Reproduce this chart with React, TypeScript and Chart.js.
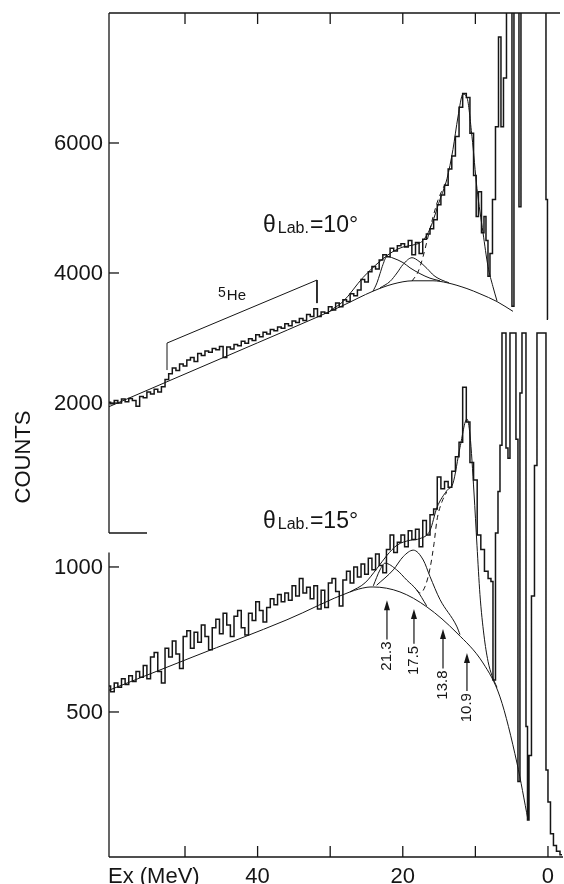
import React, { useEffect, useRef } from 'react';
import { Chart, registerables } from 'chart.js';

Chart.register(...registerables);

// ---------------- axes ----------------
const xMin = -2.07;
const xMax = 60.47;
const bottomTickEx = [0, 10, 20, 30, 40, 50];
const bottomTickLabels = ['0', '', '20', '', '40', ''];
const topFrameTickEx = [10, 20, 30, 40, 50];
const topPanelTicks = [2000, 4000, 6000];
const bottomPanelTicks = [500, 1000];
const topPanelMin = -4985;
const topPanelMax = 8000;
const bottomPanelMin = 0;
const bottomPanelMax = 2910;
const bottomPanelAxisTop = 1050;

// ---------------- theta = 10 deg (upper spectrum) ----------------
const topHistEx = [
  60.5, 60, 59.5, 59, 58.5, 58, 57.5, 57, 56.5, 56,
  55.5, 55, 54.5, 54, 53.5, 53, 52.5, 52, 51.5, 51,
  50.5, 50, 49.5, 49, 48.5, 48, 47.5, 47, 46.5, 46,
  45.5, 45, 44.5, 44, 43.5, 43, 42.5, 42, 41.5, 41,
  40.5, 40, 39.5, 39, 38.5, 38, 37.5, 37, 36.5, 36,
  35.5, 35, 34.5, 34, 33.5, 33, 32.5, 32, 31.5, 31,
  30.5, 30, 29.5, 29, 28.5, 28, 27.5, 27, 26.5, 26,
  25.5, 25, 24.5, 24, 23.5, 23, 22.5, 22, 21.5, 21,
  20.5, 20, 19.5, 19, 18.5, 18, 17.5, 17, 16.5, 16,
  15.5, 15, 14.5, 14, 13.5, 13, 12.5, 12, 11.5, 11,
  10.5, 10,
  9.78, 9.37, 8.95, 8.68, 8.4, 8.13, 7.85, 7.44, 7.02, 6.61,
  6.34, 5.92, 5.51, 5.1, 4.82, 4.55, 4.13, 3.86, 3.58, 0.41,
  0.14, 0.0,
];
const topHistCounts = [
  2010, 1990, 2040, 2000, 2060, 2020, 2070, 2040, 1950, 2100,
  2080, 2170, 2140, 2210, 2170, 2250, 2360, 2450, 2540, 2500,
  2600, 2570, 2660, 2700, 2640, 2760, 2730, 2800, 2780, 2840,
  2820, 2870, 2700, 2860, 2830, 2900, 2880, 2950, 2920, 2990,
  2960, 3050, 3020, 3090, 3060, 3130, 3110, 3170, 3150, 3220,
  3190, 3260, 3240, 3300, 3270, 3360, 3330, 3450, 3330, 3400,
  3380, 3480, 3430, 3540, 3480, 3590, 3560, 3680, 3650, 3740,
  3900, 3860, 4020, 4100, 4060, 4200, 4280, 4250, 4380, 4340,
  4420, 4450, 4400, 4500, 4280, 4470, 4300, 4520, 4600, 4680,
  4820, 5050, 5200, 5350, 5600, 5800, 6100, 6550, 6760, 6700,
  6150, 5500,
  4870, 5250, 4620, 4870, 4500, 3950, 4300, 5130, 6250, 7630,
  6250, 7000, 9000, 9000, 3490, 9000, 9000, 5020, 9000, 9000,
  5130, 3290,
];
const topBaseEx = [60.47, 50, 40, 31.82, 28.24, 24.1, 21.35, 18.6, 15.84, 13.91, 11.16, 9.37, 7.02, 4.82];
const topBaseCounts = [1943, 2446, 2926, 3320, 3500, 3720, 3830, 3880, 3880, 3850, 3760, 3680, 3560, 3410];
const topG1Ex = [24.1, 23.55, 23.14, 22.73, 22.18, 21.35, 19.97, 19.01, 17.63, 16.25, 14.88];
const topG1Counts = [3720, 3850, 3990, 4130, 4255, 4230, 4160, 4080, 3990, 3920, 3880];
const topG2Ex = [23.14, 21.76, 20.8, 19.97, 18.73, 17.77, 16.67, 15.7, 14.6, 13.64];
const topG2Counts = [3770, 3870, 4000, 4130, 4235, 4180, 4070, 3960, 3890, 3850];
const topG3Ex = [18.73, 17.91, 17.22, 16.53, 15.84, 15.15, 13.91];
const topG3Counts = [3876, 4014, 4245, 4553, 4860, 5122, 5430];
const topSumEx = [30.03, 28.24, 25.48, 23.14, 21.35, 19.97, 18.6, 17.22, 16.25, 14.88, 13.91, 13.09, 12.4, 11.71, 11.16, 10.47, 9.78, 8.95, 8.26, 7.58, 7.02];
const topSumCounts = [3420, 3560, 3930, 4180, 4330, 4400, 4430, 4500, 4680, 5130, 5450, 5900, 6400, 6750, 6700, 6100, 5300, 4620, 4100, 3790, 3570];
const heBracketEx = [52.48, 52.48, 31.82, 31.82];
const heBracketCounts = [2507, 2922, 3891, 3537];

// ---------------- theta = 15 deg (lower spectrum) ----------------
const botHistEx = [
  60.5, 60, 59.5, 59, 58.5, 58, 57.5, 57, 56.5, 56,
  55.5, 55, 54.5, 54, 53.5, 53, 52.5, 52, 51.5, 51,
  50.5, 50, 49.5, 49, 48.5, 48, 47.5, 47, 46.5, 46,
  45.5, 45, 44.5, 44, 43.5, 43, 42.5, 42, 41.5, 41,
  40.5, 40, 39.5, 39, 38.5, 38, 37.5, 37, 36.5, 36,
  35.5, 35, 34.5, 34, 33.5, 33, 32.5, 32, 31.5, 31,
  30.5, 30, 29.5, 29, 28.5, 28, 27.5, 27, 26.5, 26,
  25.5, 25, 24.5, 24, 23.5, 23, 22.5, 22, 21.5, 21,
  20.5, 20, 19.5, 19, 18.5, 18, 17.5, 17, 16.5, 16,
  15.5, 15, 14.5, 14, 13.5, 13, 12.5, 12, 11.5, 11,
  10.5, 10, 9.5, 9, 8.5, 8,
  7.71, 7.44, 7.02, 6.75, 6.47, 6.2, 5.92, 5.65, 5.37, 5.1,
  4.82, 4.55, 4.27, 4.0, 3.72, 3.44, 3.17, 2.89, 2.75, 2.48,
  2.07, 1.65, 1.38, 0.83, 0.41, 0.14, -0.14, -0.55, -0.96, -1.38,
  -1.93,
];
const botHistCounts = [
  590, 570, 600, 585, 615, 595, 625, 605, 640, 620,
  660, 615, 690, 705, 640, 600, 720, 690, 745, 700,
  650, 760, 780, 720, 775, 740, 800, 760, 715, 790,
  820, 770, 840, 800, 760, 830, 850, 790, 765, 840,
  815, 880, 850, 810, 860, 890, 870, 905, 880, 910,
  885, 935, 900, 960, 910, 930, 890, 935, 855, 920,
  860, 945, 960, 915, 865, 955, 985, 945, 1000, 965,
  1010, 975, 1030, 990, 1045, 1005, 980, 1060, 1110, 1050,
  1085, 1110, 1070, 1125, 1095, 1130, 1070, 1160, 1110, 1180,
  1200, 1310, 1270, 1295, 1275, 1330, 1380, 1430, 1620, 1500,
  1360, 1300, 1110, 1060, 985, 960,
  950, 610, 1117, 1260, 1420, 1807, 1807, 1410, 1375, 1807,
  1807, 1807, 1440, 260, 1600, 1807, 1807, 450, 128, 350,
  900, 1350, 1807, 1807, 1807, 300, 190, 80, 40, 20,
  8,
];
const botBaseEx = [60.47, 48.9, 35.95, 27.27, 24.93, 24.1, 20.39, 16.67, 12.53, 8.95, 6.61, 4.27, 2.75];
const botBaseCounts = [575, 690, 818, 914, 930, 931, 914, 862, 772, 669, 552, 324, 128];
const botG1Ex = [24.06, 23.14, 22.45, 20.84, 19.46, 18.09, 16.71];
const botG1Counts = [935, 990, 1013, 990, 955, 921, 866];
const botG2Ex = [23.6, 21.31, 19.93, 18.55, 17.18, 16.25, 14.88, 12.58, 12.12];
const botG2Counts = [937, 990, 1036, 1058, 1024, 967, 888, 796, 767];
const botG3Ex = [18.09, 17.63, 16.94, 16.25, 15.7, 15.29, 14.6, 13.95];
const botG3Counts = [921, 910, 932, 995, 1080, 1162, 1225, 1258];
const botSumEx = [27.27, 25.21, 23.55, 22.18, 20.8, 19.01, 17.63, 16.25, 15.29, 13.91, 13.09, 12.12, 11.16, 10.74, 10.19, 9.78, 9.37, 8.82, 8.26, 7.71, 7.02];
const botSumCounts = [914, 945, 995, 1040, 1075, 1092, 1098, 1126, 1205, 1264, 1288, 1412, 1510, 1455, 1255, 1075, 905, 765, 675, 625, 585];

// arrows (lower spectrum)
const arrowEx = [22.18, 18.46, 14.46, 11.16];
const arrowTipCounts = [885, 855, 786, 703];
const arrowTailCounts = [750, 735, 650, 572];
const arrowLabels = ['21.3', '17.5', '13.8', '10.9'];

// text anchors
const theta10Anchor = { ex: 39.26, counts: 4630 };
const theta15Anchor = { ex: 39.26, counts: 1134 };
const heAnchor = { ex: 45.45, counts: 3584 };

const FONT = '"Liberation Sans", Arial, Helvetica, sans-serif';
const INK = '#151515';

const pts = (ex: number[], c: number[]) => ex.map((x, i) => ({ x, y: c[i] }));

const histDs = (ex: number[], c: number[], axis: string) => ({
  data: pts(ex, c),
  yAxisID: axis,
  xAxisID: 'x',
  stepped: 'middle',
  borderColor: INK,
  borderWidth: 1.5,
  pointRadius: 0,
  fill: false,
});

const curveDs = (ex: number[], c: number[], axis: string, dash: number[] = [], smooth = true) => ({
  data: pts(ex, c),
  yAxisID: axis,
  xAxisID: 'x',
  borderColor: INK,
  borderWidth: 1,
  pointRadius: 0,
  fill: false,
  borderDash: dash,
  cubicInterpolationMode: smooth ? 'monotone' : 'default',
  tension: 0,
});

const decorPlugin = {
  id: 'decor',
  afterDatasetsDraw(chart: any) {
    const { ctx, chartArea: a } = chart;
    const sx = chart.scales.x;
    const st = chart.scales.yTop;
    const sb = chart.scales.yBot;
    ctx.save();
    ctx.strokeStyle = INK;
    ctx.fillStyle = INK;
    ctx.lineWidth = 1.3;
    const line = (x1: number, y1: number, x2: number, y2: number) => {
      ctx.beginPath();
      ctx.moveTo(x1, y1);
      ctx.lineTo(x2, y2);
      ctx.stroke();
    };
    // top frame with downward ticks
    line(a.left, a.top, a.right - 3, a.top);
    topFrameTickEx.forEach((v) => {
      const px = sx.getPixelForValue(v);
      line(px, a.top, px, a.top + 11);
    });
    // bottom axis with upward ticks
    line(a.left, a.bottom, a.right, a.bottom);
    bottomTickEx.forEach((v) => {
      const px = sx.getPixelForValue(v);
      line(px, a.bottom, px, a.bottom - 11);
    });
    // left axis, upper panel
    const yZeroTop = st.getPixelForValue(0);
    line(a.left, a.top, a.left, yZeroTop);
    line(a.left, yZeroTop, a.left + 38, yZeroTop);
    // left axis, lower panel
    line(a.left, sb.getPixelForValue(bottomPanelAxisTop), a.left, a.bottom);

    ctx.font = `22px ${FONT}`;
    ctx.textAlign = 'right';
    ctx.textBaseline = 'middle';
    topPanelTicks.forEach((v) => {
      const py = st.getPixelForValue(v);
      line(a.left, py, a.left + 10, py);
      ctx.fillText(String(v), a.left - 6, py + 1);
    });
    bottomPanelTicks.forEach((v) => {
      const py = sb.getPixelForValue(v);
      line(a.left, py, a.left + 10, py);
      ctx.fillText(String(v), a.left - 6, py + 1);
    });

    // x labels
    ctx.textBaseline = 'alphabetic';
    ctx.textAlign = 'center';
    bottomTickEx.forEach((v, i) => {
      if (bottomTickLabels[i]) ctx.fillText(bottomTickLabels[i], sx.getPixelForValue(v), a.bottom + 26);
    });
    ctx.textAlign = 'left';
    ctx.fillText('Ex (MeV)', a.left - 1, a.bottom + 26);

    // COUNTS
    ctx.save();
    ctx.translate(a.left - 85, (st.getPixelForValue(0) + sb.getPixelForValue(1000)) / 2 - 93);
    ctx.rotate(-Math.PI / 2);
    ctx.textAlign = 'center';
    ctx.textBaseline = 'middle';
    ctx.font = `22px ${FONT}`;
    ctx.fillText('COUNTS', 0, 0);
    ctx.restore();

    // theta labels
    const drawTheta = (px: number, py: number, deg: string) => {
      ctx.textAlign = 'left';
      ctx.textBaseline = 'alphabetic';
      ctx.font = `23px ${FONT}`;
      ctx.fillText('\u03B8', px, py);
      const w1 = ctx.measureText('\u03B8').width;
      ctx.font = `16px ${FONT}`;
      ctx.fillText('Lab.', px + w1 + 2, py + 1);
      const w2 = ctx.measureText('Lab.').width;
      ctx.font = `23px ${FONT}`;
      ctx.fillText('=' + deg + '\u00B0', px + w1 + 2 + w2 + 1, py);
    };
    drawTheta(sx.getPixelForValue(theta10Anchor.ex), st.getPixelForValue(theta10Anchor.counts), '10');
    drawTheta(sx.getPixelForValue(theta15Anchor.ex), sb.getPixelForValue(theta15Anchor.counts), '15');

    // 5He label
    const hx = sx.getPixelForValue(heAnchor.ex);
    const hy = st.getPixelForValue(heAnchor.counts);
    ctx.font = `14px ${FONT}`;
    ctx.fillText('5', hx, hy - 3);
    const w5 = ctx.measureText('5').width;
    ctx.font = `15px ${FONT}`;
    ctx.fillText('He', hx + w5 + 1, hy);

    // arrows
    ctx.lineWidth = 1.2;
    arrowEx.forEach((e, i) => {
      const px = sx.getPixelForValue(e);
      const tip = sb.getPixelForValue(arrowTipCounts[i]);
      const tail = sb.getPixelForValue(arrowTailCounts[i]);
      line(px, tail, px, tip + 8);
      ctx.beginPath();
      ctx.moveTo(px, tip);
      ctx.lineTo(px - 3, tip + 10);
      ctx.lineTo(px + 3, tip + 10);
      ctx.closePath();
      ctx.fill();
      ctx.save();
      ctx.translate(px, tail + 2);
      ctx.rotate(-Math.PI / 2);
      ctx.font = `15px ${FONT}`;
      ctx.textAlign = 'right';
      ctx.textBaseline = 'middle';
      ctx.fillText(arrowLabels[i], 0, 0);
      ctx.restore();
    });

    ctx.restore();
  },
};

export default function App() {
  const ref = useRef<HTMLCanvasElement>(null);
  useEffect(() => {
    const canvas = ref.current;
    if (!canvas) return;
    const chart = new Chart(canvas, {
      type: 'line',
      data: {
        datasets: [
          histDs(topHistEx, topHistCounts, 'yTop'),
          curveDs(topBaseEx, topBaseCounts, 'yTop'),
          curveDs(topG1Ex, topG1Counts, 'yTop'),
          curveDs(topG2Ex, topG2Counts, 'yTop'),
          curveDs(topG3Ex, topG3Counts, 'yTop', [5, 4]),
          curveDs(topSumEx, topSumCounts, 'yTop'),
          curveDs(heBracketEx, heBracketCounts, 'yTop', [], false),
          histDs(botHistEx, botHistCounts, 'yBot'),
          curveDs(botBaseEx, botBaseCounts, 'yBot'),
          curveDs(botG1Ex, botG1Counts, 'yBot'),
          curveDs(botG2Ex, botG2Counts, 'yBot'),
          curveDs(botG3Ex, botG3Counts, 'yBot', [5, 4]),
          curveDs(botSumEx, botSumCounts, 'yBot'),
        ] as any,
      },
      options: {
        responsive: false,
        animation: false,
        devicePixelRatio: 1,
        layout: { padding: { left: 109, right: 1, top: 13, bottom: 27 } },
        scales: {
          x: { type: 'linear', min: xMin, max: xMax, reverse: true, display: false },
          yTop: { type: 'linear', position: 'left', min: topPanelMin, max: topPanelMax, display: false },
          yBot: { type: 'linear', position: 'left', min: bottomPanelMin, max: bottomPanelMax, display: false },
        },
        plugins: { legend: { display: false }, tooltip: { enabled: false }, title: { display: false } },
        elements: { point: { radius: 0 } },
      } as any,
      plugins: [decorPlugin],
    });
    return () => chart.destroy();
  }, []);
  return (
    <div style={{ position: 'fixed', left: 0, top: 0, width: 564, height: 884, background: '#fff', overflow: 'hidden' }}>
      <canvas ref={ref} width={564} height={884} style={{ display: 'block' }} />
    </div>
  );
}
